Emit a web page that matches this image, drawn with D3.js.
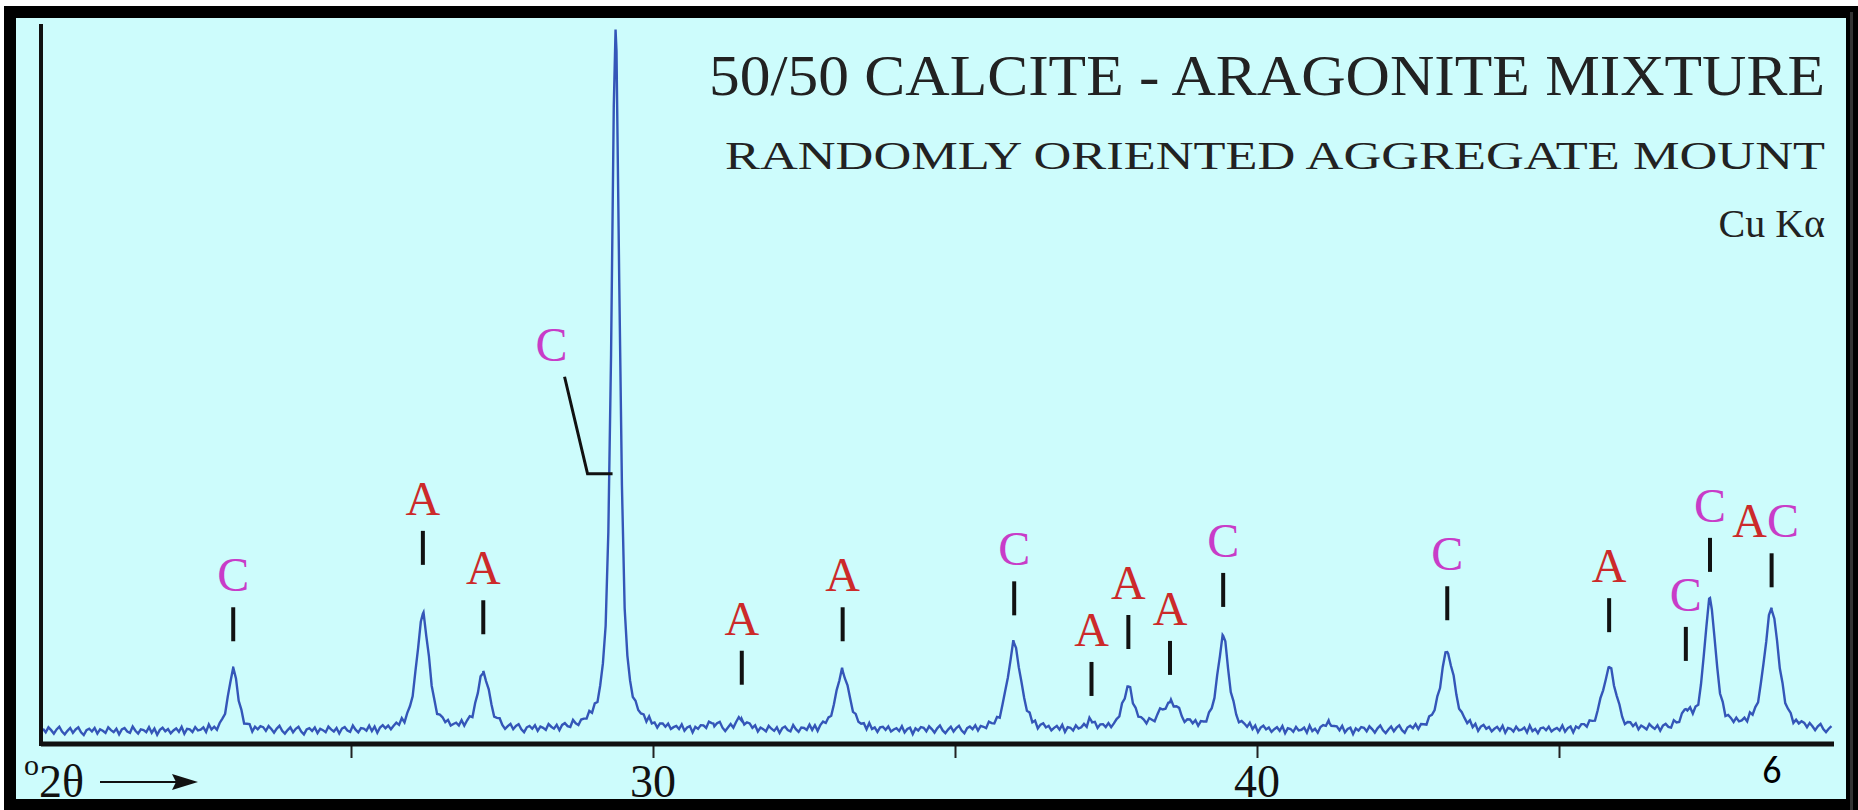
<!DOCTYPE html>
<html>
<head>
<meta charset="utf-8">
<script src="https://cdn.jsdelivr.net/npm/d3@7"></script>
<style>
  body { margin: 0; background: #fff; }
  text { font-family: "Liberation Serif", "DejaVu Serif", serif; }
</style>
</head>
<body>
<svg id="chart"></svg>
<script>
// XRD pattern, calcite / aragonite mix
const peakPos = [23.05, 26.19, 27.19, 29.38, 31.0, 31.47, 33.14, 35.98, 37.26, 37.87, 38.56, 39.44, 41.2, 43.15, 45.83, 47.1, 47.5, 48.52];
const peakInt = [9.0, 16.6, 8.0, 100, 0.8, 1.5, 8.5, 12.4, 1.1, 6.0, 3.8, 13.4, 1.0, 11.2, 9.0, 2.0, 18.6, 17.4];
const peakFwhm = [0.18, 0.24, 0.24, 0.16, 0.22, 0.22, 0.26, 0.26, 0.2, 0.22, 0.4, 0.22, 0.18, 0.28, 0.26, 0.2, 0.22, 0.28];
// background wiggle, read by eye
const noise = [0.3, -0.2, 0.5, 0.1, -0.4, 0.2, 0.6, -0.1, -0.5, 0.0, 0.4, -0.3, 0.2, 0.5, -0.2, -0.6, 0.1, 0.3, -0.1, 0.4,
  -0.4, 0.2, 0.0, -0.3, 0.5, 0.1, -0.2, 0.3, -0.5, 0.2, 0.4, -0.1, -0.3, 0.6, 0.0, -0.4, 0.2, 0.1, -0.2, 0.5,
  -0.3, 0.3, -0.6, 0.1, 0.4, -0.1, 0.2, -0.4, 0.0, 0.3, -0.2, 0.5, -0.5, 0.2, 0.1, -0.3, 0.4, -0.1, 0.0, 0.3,
  -0.4, 0.6, -0.2, 0.1, -0.5, 0.2, 0.3, -0.1, 0.4, -0.3, 0.0, 0.2, -0.2, 0.5, -0.4, 0.1, 0.3, -0.6, 0.2, -0.1, 0.4];

const labelPos = [23.05, 26.19, 27.19, 31.47, 33.14, 35.98, 37.26, 37.87, 38.56, 39.44, 43.15, 45.83, 47.1, 47.5, 48.52];
const labelText = ["C", "A", "A", "A", "A", "C", "A", "A", "A", "C", "C", "A", "C", "C", "AC"];
const labelLevel = [12.8, 23.7, 13.8, 6.6, 12.8, 16.5, 5.0, 11.7, 8.0, 17.7, 15.8, 14.1, 10.0, 22.7, 20.5];

const xTicks = [25, 30, 35, 40, 45];
const xTickLabels = ["", "30", "", "40", ""];
const titles = ["50/50 CALCITE - ARAGONITE MIXTURE", "RANDOMLY ORIENTED AGGREGATE MOUNT", "Cu K\u03b1"];

const W = 1858, H = 810;
const svg = d3.select("#chart").attr("width", W).attr("height", H);

// frame
svg.append("rect").attr("x", 0).attr("y", 0).attr("width", W).attr("height", H).attr("fill", "#fff");
svg.append("rect").attr("x", 10).attr("y", 12).attr("width", W - 16).attr("height", H - 17)
  .attr("fill", "#cdfcfc").attr("stroke", "#000").attr("stroke-width", 12);
svg.append("rect").attr("x", W - 8).attr("y", 12).attr("width", 3).attr("height", H - 12).attr("fill", "#333");

const x = d3.scaleLinear().domain([30, 40]).range([653, 1257]);
const y = d3.scaleLinear().domain([0, 100]).range([731, 30]);
const x0 = x.invert(43), x1 = x.invert(1834);

// profile
function profile(t) {
  let s = 0;
  peakPos.forEach((p, i) => {
    const g = peakFwhm[i] / 2;
    const u = (t - p) / g;
    s += peakInt[i] * (0.7 / (1 + u * u) + 0.3 * Math.exp(-Math.LN2 * u * u));
  });
  return s;
}
const grid = d3.range(x0, x1, 0.045);
const pts = grid.map((t, i) => [t, profile(t) + noise[i % noise.length]]);
peakPos.forEach(p => pts.push([p, profile(p)]));
pts.sort((a, b) => a[0] - b[0]);

svg.append("path").datum(pts)
  .attr("d", d3.line().x(d => x(d[0])).y(d => y(d[1])))
  .attr("fill", "none").attr("stroke", "#3456b8").attr("stroke-width", 2.4);

// axes
const axis = svg.append("g").attr("transform", "translate(0,744)");
axis.call(d3.axisBottom(x).tickValues(xTicks).tickSize(14).tickFormat(""));
axis.select(".domain").remove();
axis.selectAll(".tick line").attr("stroke", "#222").attr("stroke-width", 2);
axis.append("line").attr("x1", 41).attr("x2", 1834).attr("stroke", "#111").attr("stroke-width", 5);
svg.append("line").attr("x1", 41).attr("x2", 41).attr("y1", 24).attr("y2", 746)
  .attr("stroke", "#111").attr("stroke-width", 4);

svg.selectAll(".xlab").data(xTicks).enter().append("text")
  .attr("x", d => x(d)).attr("y", 797).attr("text-anchor", "middle")
  .attr("font-size", 46).attr("fill", "#111").text((d, i) => xTickLabels[i]);

svg.append("text").attr("x", 24).attr("y", 797).attr("font-size", 46).attr("fill", "#111")
  .html('<tspan font-size="30" dy="-22">o</tspan><tspan dy="22">2\u03b8</tspan>');
svg.append("line").attr("x1", 100).attr("x2", 178).attr("y1", 782).attr("y2", 782)
  .attr("stroke", "#111").attr("stroke-width", 2);
svg.append("path").attr("d", "M198,782 L172,774 L176,782 L172,790 Z").attr("fill", "#111");

svg.append("text").attr("x", 1772).attr("y", 783).attr("text-anchor", "middle")
  .style("font-family", "Carlito, 'Liberation Sans', sans-serif")
  .attr("font-size", 38).attr("fill", "#000").text("6");

// titles
const tSize = [56, 41, 40], tY = [95, 169, 237], tLen = [1116, 1100, null];
titles.forEach((t, i) => {
  const el = svg.append("text").attr("x", 1825).attr("y", tY[i]).attr("text-anchor", "end")
    .attr("font-size", tSize[i]).attr("fill", "#222").text(t);
  if (tLen[i]) el.attr("textLength", tLen[i]).attr("lengthAdjust", "spacingAndGlyphs");
});

// peak labels
const col = { C: "#c83cc8", A: "#cc2a2a" };
const lab = svg.append("g");
labelPos.forEach((p, i) => {
  const yb = y(labelLevel[i]), yt = yb - 34;
  lab.append("line").attr("x1", x(p)).attr("x2", x(p)).attr("y1", yt).attr("y2", yb)
    .attr("stroke", "#111").attr("stroke-width", 4);
  const t = lab.append("text").attr("x", x(p) - (labelText[i] === "AC" ? 6 : 0)).attr("y", yt - 16)
    .attr("text-anchor", "middle").attr("font-size", 48);
  labelText[i].split("").forEach(c => t.append("tspan").attr("fill", col[c]).text(c));
});

// leader for the main calcite peak
const px = x(29.38) - 3, py = y(36.7);
lab.append("path").attr("d", `M${px},${py} L${px - 25},${py} L${px - 48},${py - 97}`)
  .attr("fill", "none").attr("stroke", "#111").attr("stroke-width", 3);
lab.append("text").attr("x", px - 61).attr("y", py - 113).attr("text-anchor", "middle")
  .attr("font-size", 48).attr("fill", col.C).text("C");
</script>
</body>
</html>
